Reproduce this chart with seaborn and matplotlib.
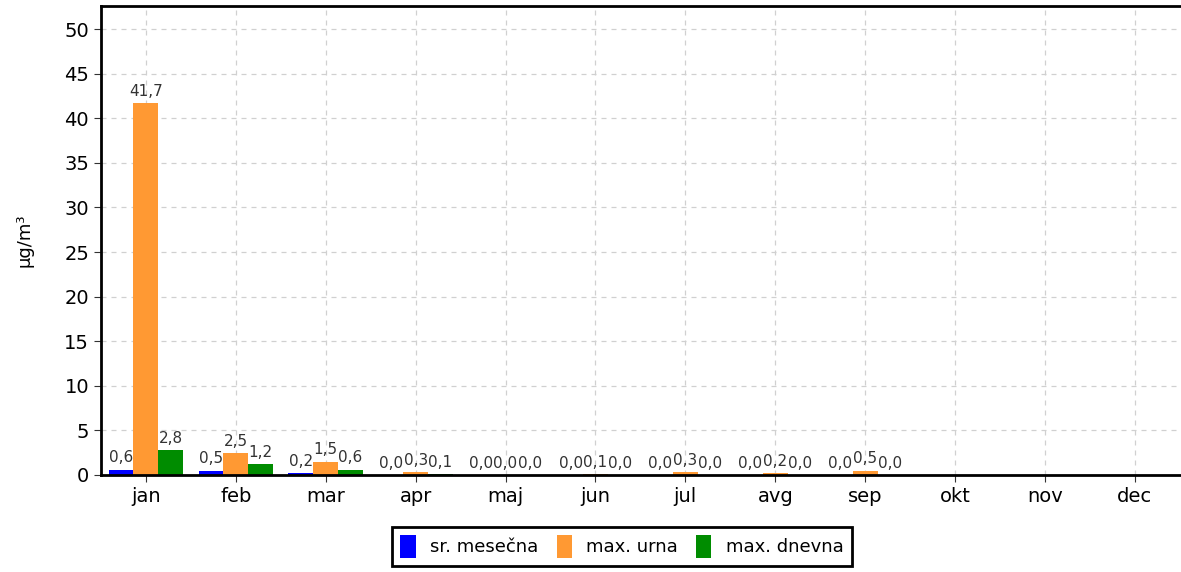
import numpy as np
import pandas as pd
import matplotlib
matplotlib.use("Agg")
import matplotlib.pyplot as plt
import seaborn as sns

months = ["jan", "feb", "mar", "apr", "maj", "jun", "jul", "avg", "sep", "okt", "nov", "dec"]
sr_mesecna = [0.6, 0.5, 0.2, 0.0, 0.0, 0.0, 0.0, 0.0, 0.0, np.nan, np.nan, np.nan]
max_urna = [41.7, 2.5, 1.5, 0.3, 0.0, 0.1, 0.3, 0.2, 0.5, np.nan, np.nan, np.nan]
max_dnevna = [2.8, 1.2, 0.6, 0.1, 0.0, 0.0, 0.0, 0.0, 0.0, np.nan, np.nan, np.nan]

series_names = ["sr. mesečna", "max. urna", "max. dnevna"]
colors = ["#0000ff", "#ff9933", "#008c00"]

df = pd.DataFrame({
    "mesec": months * 3,
    "vrednost": sr_mesecna + max_urna + max_dnevna,
    "serija": [s for s in series_names for _ in months],
})

sns.set_style("white")
plt.rcParams["font.family"] = ["DejaVu Sans"]
plt.rcParams["text.color"] = "black"

fig = plt.figure(figsize=(11.81, 5.72), dpi=100)
ax = fig.add_axes([0.0855, 0.1696, 0.9135, 0.82])

sns.barplot(data=df, x="mesec", y="vrednost", hue="serija", order=months,
            hue_order=series_names, palette=colors, width=0.83, saturation=1,
            linewidth=0, ax=ax, legend=True)

for cont in ax.containers:
    labels = []
    for bar in cont:
        h = bar.get_height()
        labels.append("" if np.isnan(h) else f"{h:.1f}".replace(".", ","))
    ax.bar_label(cont, labels=labels, padding=3, fontsize=11, color="#333333")

ax.set_xlim(-0.5, 11.5)
ax.set_ylim(0, 52.6)
ax.set_yticks(range(0, 51, 5))
ax.set_xlabel("")
ax.set_ylabel("µg/m³", fontsize=13, labelpad=22, color="black")
ax.tick_params(axis="both", labelsize=14, length=5, direction="out", color="#333333",
               labelcolor="black", bottom=True, left=True)
ax.grid(True, linestyle=(0, (4, 4)), color="#d0d0d0", linewidth=0.9)
ax.set_axisbelow(True)
for side in ["left", "bottom", "top"]:
    ax.spines[side].set_color("black")
    ax.spines[side].set_linewidth(2)
ax.spines["right"].set_visible(False)

leg = ax.legend(loc="upper center", bbox_to_anchor=(0.483, -0.091), ncol=3, frameon=True,
                fancybox=False, edgecolor="black", framealpha=1, fontsize=13,
                handlelength=0.85, handleheight=1.6, handletextpad=0.8,
                columnspacing=1.0, borderpad=0.45)
leg.get_frame().set_linewidth(2)
for t in leg.get_texts():
    t.set_color("black")

fig.savefig("out.png", dpi=100)
